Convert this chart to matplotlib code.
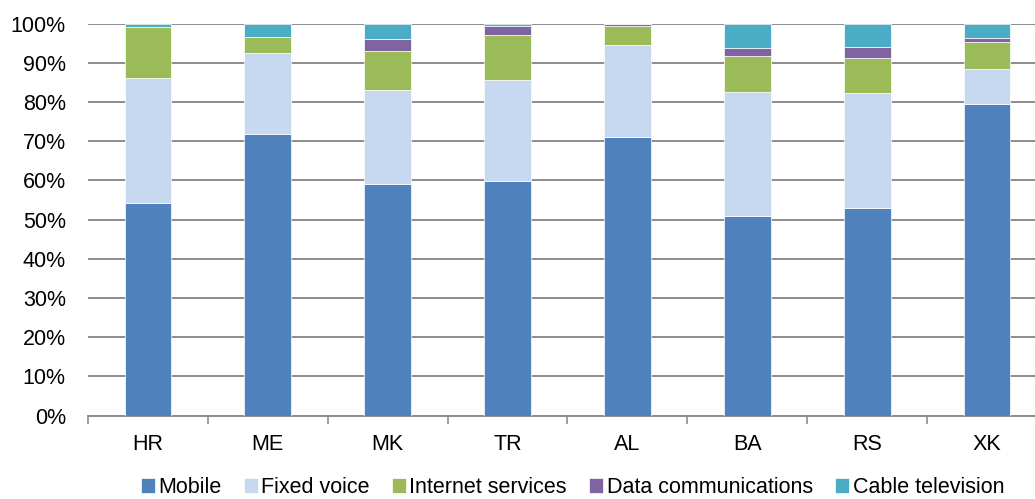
import numpy as np
import matplotlib
matplotlib.use('Agg')
import matplotlib.pyplot as plt
from matplotlib.ticker import PercentFormatter, FixedLocator

plt.rcParams['font.family'] = ['Liberation Sans', 'DejaVu Sans']

# Revenue share per service, in percent of total
countries = ['HR', 'ME', 'MK', 'TR', 'AL', 'BA', 'RS', 'XK']
mobile = [54.3, 71.9, 59.1, 59.8, 71.0, 51.0, 52.9, 79.5]
fixed_voice = [31.9, 20.6, 23.9, 25.8, 23.5, 31.4, 29.3, 8.9]
internet = [13.0, 4.0, 10.0, 11.5, 4.9, 9.3, 9.1, 7.0]
data_comm = [0.0, 0.0, 3.1, 2.3, 0.6, 2.0, 2.8, 1.0]
cable_tv = [0.8, 3.5, 3.9, 0.6, 0.0, 6.3, 5.9, 3.6]

series = [
    ('Mobile', mobile, '#4F81BD'),
    ('Fixed voice', fixed_voice, '#C6D9F1'),
    ('Internet services', internet, '#9BBB59'),
    ('Data communications', data_comm, '#8064A2'),
    ('Cable television', cable_tv, '#4BACC6'),
]

fig = plt.figure(figsize=(10.35, 4.99), dpi=100)
# plot area runs slightly past the right edge of the figure
ax = fig.add_axes([0.085, 0.1673, 0.9266, 0.7856])

x = np.arange(len(countries))
bottom = np.zeros(len(countries))
for name, vals, color in series:
    vals = np.array(vals)
    ax.bar(x, vals, 0.39, bottom=bottom, color=color, label=name,
           edgecolor='white', linewidth=0.5, zorder=3)
    bottom += vals

ax.set_xlim(-0.5, len(countries) - 0.5)
ax.set_ylim(0, 100)
ax.set_yticks(np.arange(0, 101, 10))
ax.yaxis.set_major_formatter(PercentFormatter(decimals=0))
ax.grid(axis='y', color='#8C8C8C', linewidth=1.4, zorder=0)

ax.set_xticks(x)
ax.set_xticklabels(countries)
ax.xaxis.set_minor_locator(FixedLocator(np.arange(-0.5, len(countries), 1)))
ax.tick_params(axis='x', which='major', length=0, pad=13, labelsize=15.5, colors='black')
ax.tick_params(axis='x', which='minor', length=6, width=1.2, color='#8C8C8C')
ax.tick_params(axis='y', length=0, pad=16, labelsize=15.5)

for side in ['top', 'right', 'left']:
    ax.spines[side].set_visible(False)
ax.spines['bottom'].set_color('#8C8C8C')
ax.spines['bottom'].set_linewidth(1.4)

fig.legend(loc='lower center', bbox_to_anchor=(0.553, 0.0), ncol=5, frameon=False,
           fontsize=15.5, handlelength=0.65, handleheight=0.65, handletextpad=0.15,
           columnspacing=1.05, borderaxespad=0, borderpad=0.05)

fig.savefig('out.png', dpi=100)
